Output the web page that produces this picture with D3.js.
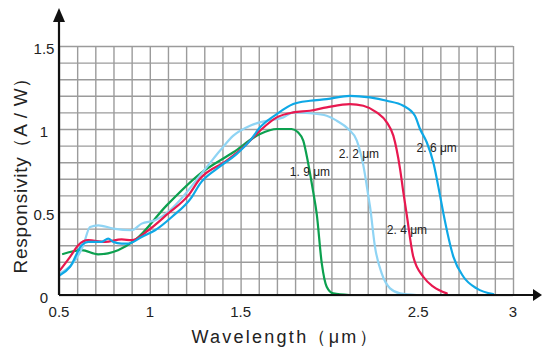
<!DOCTYPE html>
<head>
<meta charset="utf-8">
<style>
body { margin:0; background:#fff; }
#chart1 { width:542px; height:350px; }
.grid line { stroke:#9b9b9b; stroke-width:1.4; }
.grid path { display:none; }
.tick-label { font-family:'Liberation Sans', Arial, sans-serif; font-size:15px; fill:#222; }
.curve { fill:none; stroke-width:2.2; stroke-linejoin:round; stroke-linecap:round; }
.cutoff { font-family:'Liberation Sans', Arial, sans-serif; font-size:12px; fill:#222; }
</style>
</head>
<body>
<div id="chart1"></div>
<script src="https://d3js.org/d3.v7.min.js"></script>
<script>

// tick labels (note: the original has no "2" label)
var xTickLabels = [0.5, 1, 1.5, 2.5, 3];
var yTickLabels = [0, 0.5, 1, 1.5];

// cut-off wavelength of each detector
var cutoffs = ["1. 9 μm", "2. 2 μm", "2. 4 μm", "2. 6 μm"];

// responsivity curves, [wavelength um, A/W]
var green19 = [[0.522,0.247],[0.625,0.27],[0.715,0.245],[0.825,0.27],[0.918,0.33],[1.093,0.54],
  [1.276,0.73],[1.46,0.86],[1.607,0.97],[1.699,1.0],[1.781,1.0],[1.816,0.98],[1.845,0.93],
  [1.871,0.80],[1.90,0.62],[1.919,0.49],[1.947,0.19],[1.974,0.05],[2.01,0.01],[2.10,0.0]];

var lightBlue22 = [[0.506,0.13],[0.634,0.30],[0.671,0.41],[0.716,0.42],[0.799,0.40],[0.90,0.39],
  [0.955,0.43],[1.029,0.45],[1.10,0.50],[1.313,0.77],[1.387,0.87],[1.46,0.96],[1.552,1.02],
  [1.644,1.05],[1.735,1.07],[1.79,1.10],[1.882,1.095],[1.974,1.08],[2.029,1.05],[2.093,1.0],
  [2.14,0.93],[2.176,0.78],[2.203,0.60],[2.213,0.53],[2.24,0.29],[2.277,0.13],[2.323,0.04],
  [2.378,0.01],[2.47,0.0]];

var red24 = [[0.506,0.15],[0.561,0.23],[0.606,0.30],[0.661,0.33],[0.753,0.32],[0.845,0.335],
  [0.90,0.33],[0.992,0.39],[1.10,0.49],[1.212,0.60],[1.276,0.70],[1.423,0.81],[1.515,0.89],
  [1.607,0.99],[1.699,1.07],[1.79,1.10],[1.882,1.11],[1.974,1.13],[2.102,1.15],[2.176,1.14],
  [2.249,1.10],[2.305,1.04],[2.341,0.96],[2.378,0.76],[2.396,0.62],[2.414,0.49],[2.451,0.23],
  [2.506,0.11],[2.561,0.05],[2.635,0.01]];

var blue26 = [[0.506,0.12],[0.561,0.17],[0.625,0.30],[0.661,0.32],[0.735,0.32],[0.771,0.34],
  [0.799,0.32],[0.845,0.31],[0.882,0.31],[0.955,0.35],[1.029,0.39],[1.121,0.47],[1.231,0.59],
  [1.276,0.67],[1.368,0.76],[1.479,0.85],[1.552,0.93],[1.607,1.01],[1.699,1.09],[1.79,1.15],
  [1.882,1.17],[1.974,1.18],[2.102,1.20],[2.212,1.19],[2.305,1.17],[2.396,1.14],[2.46,1.08],
  [2.488,1.0],[2.525,0.92],[2.561,0.80],[2.598,0.60],[2.617,0.49],[2.672,0.23],[2.727,0.11],
  [2.80,0.04],[2.891,0.005]];

var series = [
  {name: cutoffs[0], color: "#0ca04f", values: green19, label: [1.882, 0.74]},
  {name: cutoffs[1], color: "#8fd4f4", values: lightBlue22, label: [2.152, 0.85]},
  {name: cutoffs[2], color: "#e8184f", values: red24, label: [2.416, 0.39]},
  {name: cutoffs[3], color: "#0ea8e6", values: blue26, label: [2.58, 0.885]}
];

var margin = {top: 46, right: 29, bottom: 55, left: 59},
    width = 542 - margin.left - margin.right,
    height = 350 - margin.top - margin.bottom;

var svg = d3.select('#chart1')
  .append('svg')
    .attr('width', 542)
    .attr('height', 350);

var xScale = d3.scaleLinear().domain([0.5, 3]).range([0, width]),
    yScale = d3.scaleLinear().domain([0, 1.5]).range([height, 0]);

var g = svg.append("g")
    .attr("transform", "translate(" + margin.left + "," + margin.top + ")");

// grid every 0.1
g.append("g")
    .attr("class", "grid")
    .call(d3.axisBottom(xScale).tickValues(d3.range(5, 31).map(function(d) { return d / 10; }))
      .tickSize(height).tickFormat(""));

g.append("g")
    .attr("class", "grid")
    .call(d3.axisLeft(yScale).tickValues(d3.range(0, 16).map(function(d) { return d / 10; }))
      .tickSize(-width).tickFormat(""));

// curves
var line = d3.line()
    .x(function(d) { return xScale(d[0]); })
    .y(function(d) { return yScale(d[1]); })
    .curve(d3.curveMonotoneX);

g.selectAll(".curve")
    .data(series)
  .enter().append("path")
    .attr("class", "curve")
    .attr("stroke", function(d) { return d.color; })
    .attr("d", function(d) { return line(d.values); });

g.selectAll(".cutoff")
    .data(series)
  .enter().append("text")
    .attr("class", "cutoff")
    .attr("text-anchor", "middle")
    .attr("x", function(d) { return xScale(d.label[0]); })
    .attr("y", function(d) { return yScale(d.label[1]); })
    .attr("dy", "0.35em")
    .text(function(d) { return d.name; });

// axes with arrows
g.append("line")
    .attr("x1", 0).attr("y1", height)
    .attr("x2", 0).attr("y2", -24)
    .attr("stroke", "#111").attr("stroke-width", 2.2);

g.append("path")
    .attr("d", "M-6,-24L6,-24L0,-38Z")
    .attr("fill", "#111");

g.append("line")
    .attr("x1", 0).attr("y1", height)
    .attr("x2", width + 20).attr("y2", height)
    .attr("stroke", "#111").attr("stroke-width", 2.2);

g.append("path")
    .attr("d", "M" + (width + 20) + "," + (height - 6) + "L" + (width + 29) + "," + height + "L" + (width + 20) + "," + (height + 6) + "Z")
    .attr("fill", "#111");

// tick labels
g.selectAll(".xlab")
    .data(xTickLabels)
  .enter().append("text")
    .attr("class", "tick-label")
    .attr("text-anchor", "middle")
    .attr("x", function(d) { return xScale(d) - (d === 2.5 ? 4 : 0); })
    .attr("y", height + 22)
    .text(function(d) { return d; });

g.selectAll(".ylab")
    .data(yTickLabels)
  .enter().append("text")
    .attr("class", "tick-label")
    .attr("text-anchor", "middle")
    .attr("x", -15)
    .attr("y", function(d) { return yScale(d) + 8; })
    .text(function(d) { return d; });

// axis titles
svg.append("text")
    .attr("transform", "translate(27,171) rotate(-90)")
    .attr("text-anchor", "middle")
    .attr("font-family", "'Liberation Sans', Arial, sans-serif")
    .attr("font-size", "19px")
    .attr("fill", "#222")
    .attr("textLength", 205)
    .attr("lengthAdjust", "spacing")
    .text("Responsivity（A / W）");

svg.append("text")
    .attr("x", 284)
    .attr("y", 343)
    .attr("text-anchor", "middle")
    .attr("font-family", "'Liberation Sans', Arial, sans-serif")
    .attr("font-size", "18px")
    .attr("fill", "#222")
    .attr("textLength", 185)
    .attr("lengthAdjust", "spacing")
    .text("Wavelength（μm）");

</script>
</body>
